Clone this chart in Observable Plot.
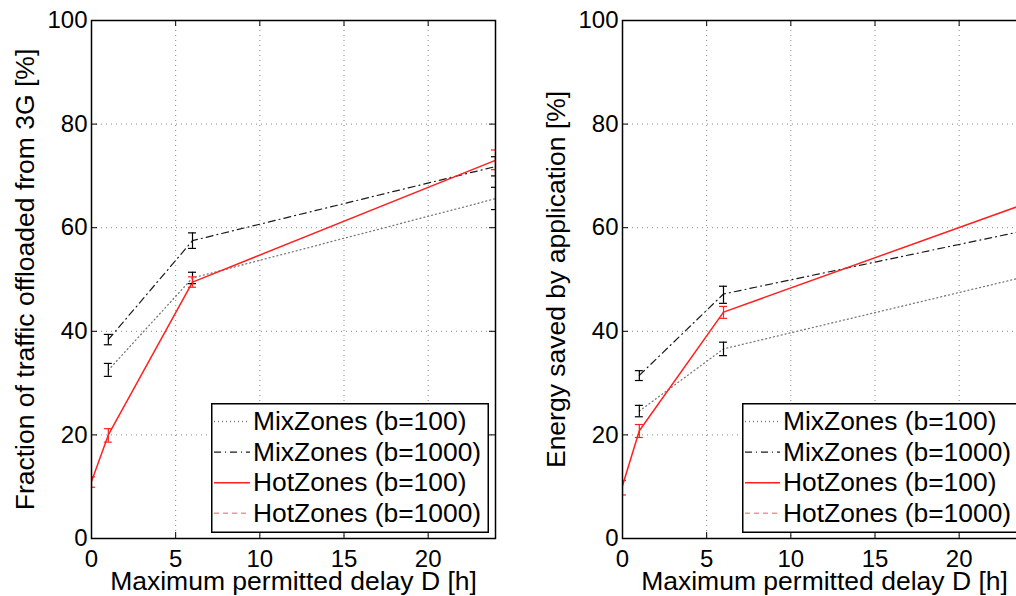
<!DOCTYPE html>
<html><head><meta charset="utf-8">
<script src="https://cdn.jsdelivr.net/npm/d3@7"></script>
<script src="https://cdn.jsdelivr.net/npm/@observablehq/plot@0.6"></script>
<style>
html,body{margin:0;padding:0;background:#fff;overflow:hidden;}
#wrap{position:relative;width:1016px;height:596px;overflow:hidden;background:#fff;}
.panel{position:absolute;top:0;}
.legend{position:absolute;overflow:visible;}
</style></head><body><div id="wrap"></div>
<script>
const FONT = '"Liberation Sans", Arial, Helvetica, sans-serif';

// Shared
const mixDelays = [1, 6, 24];
const hotDelays = [0, 1, 6, 24];
const xTicks = [0, 5, 10, 15, 20];
const yTicks = [0, 20, 40, 60, 80, 100];
const gridXTicks = [5, 10, 15, 20];
const gridYTicks = [20, 40, 60, 80];
const seriesNames = ["MixZones (b=100)", "MixZones (b=1000)", "HotZones (b=100)", "HotZones (b=1000)"];
const xLabel = "Maximum permitted delay D [h]";

// Left panel: traffic offloaded
const offloadLabel = "Fraction of traffic offloaded from 3G [%]";
const offMix100 = [32.5, 50.3, 65.6];
const offMix100Lo = [31.3, 49.2, 63.5];
const offMix100Hi = [33.8, 51.4, 67.8];
const offMix1000 = [38.4, 57.5, 71.8];
const offMix1000Lo = [37.4, 56.0, 70.0];
const offMix1000Hi = [39.4, 59.0, 73.7];
const offHot100 = [11.0, 20.0, 49.5, 73.0];
const offHot100Lo = [9.9, 18.6, 48.5, 71.2];
const offHot100Hi = [11.9, 21.2, 50.5, 75.0];

// Right panel: energy saved
const energyLabel = "Energy saved by application [%]";
const enMix100 = [24.6, 36.6, 50.6];
const enMix100Lo = [23.5, 35.3, 49.0];
const enMix100Hi = [25.7, 37.9, 52.0];
const enMix1000 = [31.5, 47.2, 59.5];
const enMix1000Lo = [30.5, 45.4, 58.0];
const enMix1000Hi = [32.4, 48.7, 61.0];
const enHot100 = [10.2, 20.8, 43.7, 64.7];
const enHot100Lo = [8.4, 19.5, 42.5, 63.0];
const enHot100Hi = [11.2, 22.0, 44.8, 66.0];

const styles = {
  mix100: {stroke: "#7a7a7a", strokeDasharray: "1,3", strokeWidth: 1.3},
  mix1000: {stroke: "#1a1a1a", strokeDasharray: "7,4,1,4", strokeWidth: 1.2},
  hot100: {stroke: "#ff2020", strokeWidth: 1.5},
  hot1000: {stroke: "#ff8f8f", strokeDasharray: "5,4", strokeWidth: 1.5}
};

const rows = (xs, ys, lo, hi) => xs.map((x, i) => ({x, y: ys[i], lo: lo[i], hi: hi[i]}));

function errorBars(data, color) {
  return [
    Plot.ruleX(data, {x: "x", y1: "lo", y2: "hi", stroke: color, strokeWidth: 1.2, clip: true}),
    Plot.ruleY(data, {y: "lo", x1: "x", x2: "x", insetLeft: -4, insetRight: -4, stroke: color, strokeWidth: 1.2, clip: true}),
    Plot.ruleY(data, {y: "hi", x1: "x", x2: "x", insetLeft: -4, insetRight: -4, stroke: color, strokeWidth: 1.2, clip: true})
  ];
}

function makePanel({yLabel, m100, m1000, h100, marginLeft, width}) {
  const frameW = 404, frameH = 518;
  const gridStyle = {stroke: "#888", strokeOpacity: 1, strokeDasharray: "1,4", strokeWidth: 1};
  return Plot.plot({
    width, height: 596,
    marginLeft, marginRight: width - marginLeft - frameW, marginTop: 20, marginBottom: 58,
    style: {fontFamily: FONT, color: "#000", background: "transparent", overflow: "visible"},
    x: {domain: [0, 24]},
    y: {domain: [0, 100]},
    marks: [
      Plot.gridX(gridXTicks, gridStyle),
      Plot.gridY(gridYTicks, gridStyle),
      Plot.tickX(xTicks, {x: d => d, insetTop: frameH - 6, stroke: "#000"}),
      Plot.tickX(xTicks, {x: d => d, insetBottom: frameH - 6, stroke: "#000"}),
      Plot.tickY(yTicks, {y: d => d, insetRight: frameW - 6, stroke: "#000"}),
      Plot.tickY(yTicks, {y: d => d, insetLeft: frameW - 6, stroke: "#000"}),
      Plot.axisX(xTicks, {tickSize: 0, tickPadding: 11, fontSize: 24, label: null}),
      Plot.axisY(yTicks, {tickSize: 0, tickPadding: 4, fontSize: 24, label: null}),
      Plot.line(m100, {x: "x", y: "y", ...styles.mix100, clip: true}),
      Plot.line(m1000, {x: "x", y: "y", ...styles.mix1000, clip: true}),
      Plot.line(h100, {x: "x", y: "y", ...styles.hot100, clip: true}),
      ...errorBars(m100, "#000"),
      ...errorBars(m1000, "#000"),
      ...errorBars(h100, "#ff2020"),
      Plot.frame({stroke: "#000", strokeWidth: 1.5}),
      Plot.text([yLabel], {text: d => d, frameAnchor: "left", dx: -66, rotate: -90, textAnchor: "middle", lineAnchor: "middle", fontSize: 26.5, fill: "#000"}),
      Plot.text([xLabel], {text: d => d, frameAnchor: "bottom", dy: 43.5, textAnchor: "middle", lineAnchor: "middle", fontSize: 26.5, fill: "#000"})
    ]
  });
}

function makeLegend(left, top, w, h, textX) {
  const svg = d3.create("svg").attr("class", "legend")
    .attr("width", w).attr("height", h)
    .style("left", left + "px").style("top", top + "px");
  svg.append("rect").attr("x", 0.75).attr("y", 0.75).attr("width", w - 1.5).attr("height", h - 1.5)
    .attr("fill", "#fff").attr("stroke", "#000").attr("stroke-width", 1.5);
  const keys = ["mix100", "mix1000", "hot100", "hot1000"];
  seriesNames.forEach((name, i) => {
    const base = 27 + i * 30.6;
    const cy = base - 8.5;
    const s = styles[keys[i]];
    svg.append("line").attr("x1", 3).attr("x2", textX - 3).attr("y1", cy).attr("y2", cy)
      .attr("stroke", s.stroke).attr("stroke-width", s.strokeWidth)
      .attr("stroke-dasharray", s.strokeDasharray || null);
    svg.append("text").attr("x", textX).attr("y", base)
      .attr("font-family", FONT).attr("font-size", 26.4).attr("fill", "#000").text(name);
  });
  return svg.node();
}

const wrap = document.getElementById("wrap");

const left = makePanel({
  yLabel: offloadLabel,
  m100: rows(mixDelays, offMix100, offMix100Lo, offMix100Hi),
  m1000: rows(mixDelays, offMix1000, offMix1000Lo, offMix1000Hi),
  h100: rows(hotDelays, offHot100, offHot100Lo, offHot100Hi),
  marginLeft: 91, width: 510
});
left.classList.add("panel");
left.style.left = "0px";
wrap.appendChild(left);

const right = makePanel({
  yLabel: energyLabel,
  m100: rows(mixDelays, enMix100, enMix100Lo, enMix100Hi),
  m1000: rows(mixDelays, enMix1000, enMix1000Lo, enMix1000Hi),
  h100: rows(hotDelays, enHot100, enHot100Lo, enHot100Hi),
  marginLeft: 112, width: 531
});
right.classList.add("panel");
right.style.left = "510px";
wrap.appendChild(right);

wrap.appendChild(makeLegend(211, 403, 278, 130, 42));
wrap.appendChild(makeLegend(742, 403, 290, 130, 41));
</script>
</body></html>
